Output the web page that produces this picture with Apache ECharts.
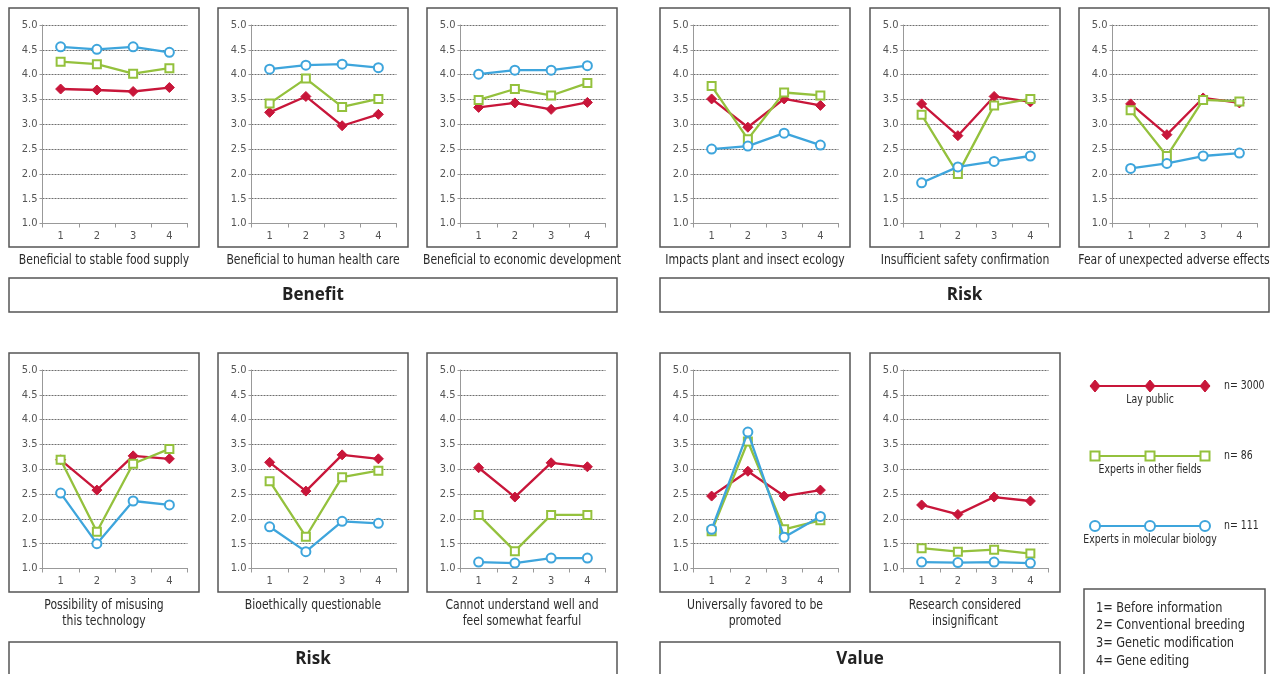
<!DOCTYPE html>
<html>
<head>
<meta charset="utf-8">
<script src="https://cdn.jsdelivr.net/npm/echarts@6/dist/echarts.min.js"></script>
<style>
  html, body { margin: 0; padding: 0; background: #fff; }
  #main { width: 1274px; height: 674px; }
</style>
</head>
<body>
<div id="main"></div>
<script>
// x categories: 1 = before info, 2 = conventional breeding, 3 = GM, 4 = gene editing
var categories = ['1', '2', '3', '4'];

var panelTitles = [
  'Beneficial to stable food supply',
  'Beneficial to human health care',
  'Beneficial to economic development',
  'Impacts plant and insect ecology',
  'Insufficient safety confirmation',
  'Fear of unexpected adverse effects',
  'Possibility of misusing\nthis technology',
  'Bioethically questionable',
  'Cannot understand well and\nfeel somewhat fearful',
  'Universally favored to be\npromoted',
  'Research considered\ninsignificant'
];

// one row per panel, same order as panelTitles
var layPublic = [
  [3.71, 3.69, 3.66, 3.74],
  [3.24, 3.56, 2.97, 3.20],
  [3.34, 3.43, 3.30, 3.44],
  [3.51, 2.94, 3.51, 3.38],
  [3.41, 2.77, 3.56, 3.45],
  [3.41, 2.79, 3.53, 3.43],
  [3.19, 2.58, 3.27, 3.21],
  [3.14, 2.56, 3.29, 3.21],
  [3.03, 2.44, 3.13, 3.05],
  [2.46, 2.96, 2.46, 2.58],
  [2.28, 2.09, 2.44, 2.36]
];
var expertsOther = [
  [4.26, 4.21, 4.02, 4.13],
  [3.42, 3.92, 3.35, 3.51],
  [3.49, 3.71, 3.58, 3.83],
  [3.77, 2.70, 3.64, 3.58],
  [3.19, 2.00, 3.38, 3.51],
  [3.28, 2.36, 3.49, 3.46],
  [3.19, 1.74, 3.11, 3.41],
  [2.76, 1.64, 2.84, 2.97],
  [2.08, 1.35, 2.08, 2.08],
  [1.75, 3.56, 1.79, 1.97],
  [1.41, 1.34, 1.38, 1.30]
];
var expertsMolBio = [
  [4.56, 4.51, 4.56, 4.45],
  [4.11, 4.19, 4.21, 4.14],
  [4.01, 4.09, 4.09, 4.18],
  [2.50, 2.56, 2.82, 2.58],
  [1.82, 2.14, 2.25, 2.36],
  [2.11, 2.21, 2.36, 2.42],
  [2.52, 1.50, 2.36, 2.28],
  [1.84, 1.34, 1.95, 1.91],
  [1.13, 1.11, 1.21, 1.21],
  [1.79, 3.75, 1.63, 2.05],
  [1.13, 1.12, 1.13, 1.11]
];

var groupNames = ['Lay public', 'Experts in other fields', 'Experts in molecular biology'];
var groupN = ['n= 3000', 'n= 86', 'n= 111'];
var keyLines = ['1= Before information', '2= Conventional breeding', '3= Genetic modification', '4= Gene editing'];

var RED = '#c8163a', GREEN = '#94c13d', BLUE = '#3ea5dc';
var NARROW = '"DejaVu Sans Condensed", "Liberation Sans Narrow", sans-serif';

var panelPos = [
  [9, 8], [218, 8], [427, 8], [660, 8], [870, 8], [1079, 8],
  [9, 353], [218, 353], [427, 353], [660, 353], [870, 353]
];
var PW = 190, PH = 239;

var grids = [], xAxes = [], yAxes = [], series = [], graphics = [];

panelPos.forEach(function (p, i) {
  grids.push({ left: p[0] + 33.5, top: p[1] + 17, width: 145, height: 198.5 });
  xAxes.push({
    type: 'category', gridIndex: i, data: categories, boundaryGap: true,
    axisLine: { lineStyle: { color: '#999', width: 1 } },
    axisTick: { show: true, length: 4, lineStyle: { color: '#999' } },
    axisLabel: { color: '#555', fontFamily: NARROW, fontSize: 11, margin: 7 }
  });
  yAxes.push({
    type: 'value', gridIndex: i, min: 1, max: 5, interval: 0.5,
    axisLine: { show: true, lineStyle: { color: '#999', width: 1 } },
    axisTick: { show: true, length: 3, lineStyle: { color: '#999' } },
    axisLabel: { color: '#555', fontFamily: NARROW, fontSize: 11, margin: 5,
      formatter: function (v) { return v.toFixed(1); } },
    splitLine: { show: true, lineStyle: { color: '#6f6f6f', type: [2, 1], width: 1 } }
  });
  series.push({
    type: 'line', xAxisIndex: i, yAxisIndex: i, data: layPublic[i],
    symbol: 'diamond', symbolSize: 10,
    lineStyle: { color: RED, width: 2.3 },
    itemStyle: { color: RED, borderColor: RED, borderWidth: 1 }, z: 3
  });
  series.push({
    type: 'line', xAxisIndex: i, yAxisIndex: i, data: expertsOther[i],
    symbol: 'rect', symbolSize: 8,
    lineStyle: { color: GREEN, width: 2.3 },
    itemStyle: { color: '#fff', borderColor: GREEN, borderWidth: 2 }, z: 4
  });
  series.push({
    type: 'line', xAxisIndex: i, yAxisIndex: i, data: expertsMolBio[i],
    symbol: 'circle', symbolSize: 9,
    lineStyle: { color: BLUE, width: 2.3 },
    itemStyle: { color: '#fff', borderColor: BLUE, borderWidth: 2 }, z: 5
  });

  // panel frame
  graphics.push({
    type: 'rect', shape: { x: p[0], y: p[1], width: PW, height: PH },
    style: { fill: null, stroke: '#555', lineWidth: 1.5 }, z: 10
  });
  // panel caption (condensed look via horizontal scaling)
  graphics.push({
    type: 'text', x: p[0] + PW / 2, y: p[1] + PH + 5, scaleX: 0.86,
    style: { text: panelTitles[i], font: '14px ' + NARROW, fill: '#2a2a2a',
      align: 'center', verticalAlign: 'top', lineHeight: 16 }, z: 10
  });
});

// group boxes
function groupBox(x, y, w, h, label) {
  graphics.push({
    type: 'rect', shape: { x: x, y: y, width: w, height: h },
    style: { fill: null, stroke: '#555', lineWidth: 1.5 }, z: 10
  });
  graphics.push({
    type: 'text', x: x + w / 2, y: y + 17,
    style: { text: label, font: 'bold 17px "Open Sans", "DejaVu Sans", sans-serif', fill: '#222',
      align: 'center', verticalAlign: 'middle' }, z: 10
  });
}
groupBox(9, 278, 608, 34, 'Benefit');
groupBox(660, 278, 609, 34, 'Risk');
groupBox(9, 642, 608, 40, 'Risk');
groupBox(660, 642, 400, 40, 'Value');

// legend for the three respondent groups
var legendY = [386, 456, 526];
var legendSym = [
  { type: 'diamond', color: RED, fill: RED },
  { type: 'rect', color: GREEN, fill: '#fff' },
  { type: 'circle', color: BLUE, fill: '#fff' }
];
legendY.forEach(function (ly, k) {
  var s = legendSym[k];
  graphics.push({
    type: 'line', shape: { x1: 1095, y1: ly, x2: 1205, y2: ly },
    style: { stroke: s.color, lineWidth: 2 }, z: 10
  });
  [1095, 1150, 1205].forEach(function (mx) {
    if (s.type === 'diamond') {
      graphics.push({ type: 'polygon', shape: { points: [[mx, ly - 6], [mx + 5, ly], [mx, ly + 6], [mx - 5, ly]] },
        style: { fill: s.fill, stroke: s.color, lineWidth: 1 }, z: 11 });
    } else if (s.type === 'rect') {
      graphics.push({ type: 'rect', shape: { x: mx - 4.5, y: ly - 4.5, width: 9, height: 9 },
        style: { fill: s.fill, stroke: s.color, lineWidth: 2 }, z: 11 });
    } else {
      graphics.push({ type: 'circle', shape: { cx: mx, cy: ly, r: 5 },
        style: { fill: s.fill, stroke: s.color, lineWidth: 2 }, z: 11 });
    }
  });
  graphics.push({
    type: 'text', x: 1150, y: ly + 14, scaleX: 0.8,
    style: { text: groupNames[k], font: '13px ' + NARROW, fill: '#2a2a2a',
      align: 'center', verticalAlign: 'middle' }, z: 10
  });
  graphics.push({
    type: 'text', x: 1224, y: ly, scaleX: 0.8,
    style: { text: groupN[k], font: '13px ' + NARROW, fill: '#2a2a2a',
      align: 'left', verticalAlign: 'middle' }, z: 10
  });
});

// key box for the x categories
graphics.push({
  type: 'rect', shape: { x: 1084, y: 589, width: 181, height: 95 },
  style: { fill: null, stroke: '#555', lineWidth: 1.5 }, z: 10
});
graphics.push({
  type: 'text', x: 1096, y: 599, scaleX: 0.9,
  style: { text: keyLines.join('\n'), font: '14px ' + NARROW, fill: '#2a2a2a',
    align: 'left', verticalAlign: 'top', lineHeight: 17.8 }, z: 10
});

var chart = echarts.init(document.getElementById('main'), null, { renderer: 'canvas' });
chart.setOption({
  animation: false,
  backgroundColor: '#fff',
  grid: grids,
  xAxis: xAxes,
  yAxis: yAxes,
  series: series,
  graphic: graphics
});
</script>
</body>
</html>
